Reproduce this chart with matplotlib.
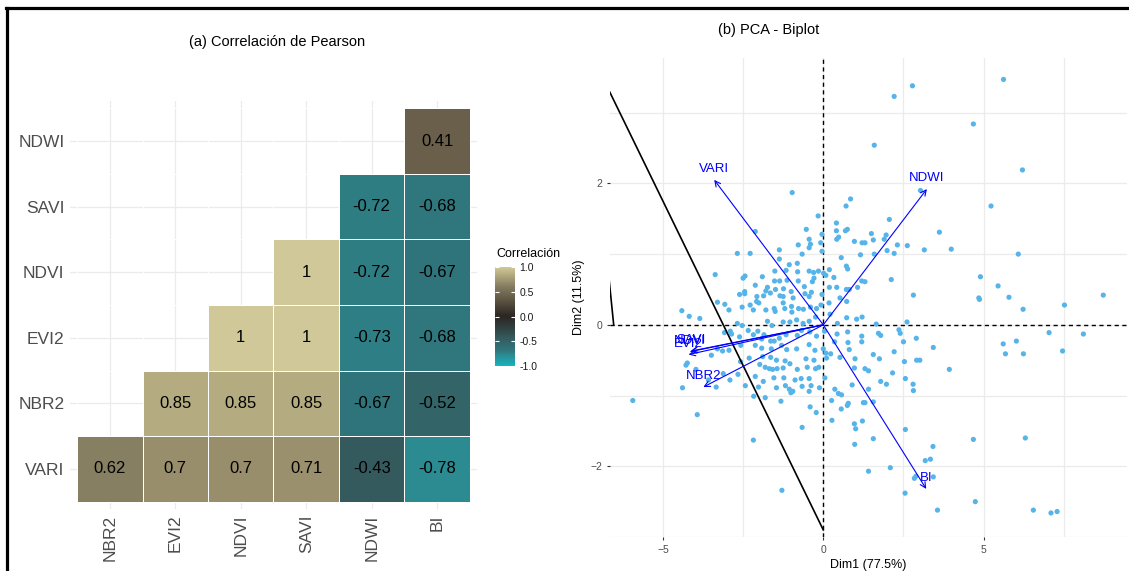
import numpy as np
import matplotlib
matplotlib.use("Agg")
import matplotlib.pyplot as plt
from matplotlib.colors import LinearSegmentedColormap
from matplotlib.lines import Line2D

plt.rcParams['font.family'] = ['Liberation Sans', 'DejaVu Sans']

# ---------------- data: correlation matrix (lower triangle) ----------------
row_labels = ["VARI", "NBR2", "EVI2", "NDVI", "SAVI", "NDWI"]   # bottom -> top
col_labels = ["NBR2", "EVI2", "NDVI", "SAVI", "NDWI", "BI"]
nan = np.nan
corr_VARI = [0.62, 0.70, 0.70, 0.71, -0.43, -0.78]
corr_NBR2 = [nan, 0.85, 0.85, 0.85, -0.67, -0.52]
corr_EVI2 = [nan, nan, 1.00, 1.00, -0.73, -0.68]
corr_NDVI = [nan, nan, nan, 1.00, -0.72, -0.67]
corr_SAVI = [nan, nan, nan, nan, -0.72, -0.68]
corr_NDWI = [nan, nan, nan, nan, nan, 0.41]

cbar_ticks = [-1.0, -0.5, 0.0, 0.5, 1.0]
cbar_ticklabels = ["-1.0", "-0.5", "0.0", "0.5", "1.0"]

# ---------------- data: PCA biplot ----------------
pc_dim1 = [
    -0.97, 0.85, 0.71, -0.16, 0.41, -2.12, -0.53, 0.41, 0.75, 0.69, -0.04, -0.44, 0.48, 0.42, -0.78,
    -0.08, -0.40, -0.44, 0.97, 1.21, -2.68, -2.28, -1.37, -0.66, -0.04, 0.56, 1.16, -1.37, -0.81, -1.06,
    -1.51, -1.16, -0.80, -3.37, -2.44, -2.50, -1.90, -0.44, -0.30, -0.15, 0.01, 0.19, 0.08, 0.72, 0.76,
    0.33, -0.29, -0.34, -1.52, -1.36, -1.13, -0.78, -2.12, -1.74, -2.45, -2.45, -1.79, -1.65, -1.49, -1.24,
    -1.00, -0.59, -0.57, -0.37, 0.19, 0.42, 0.72, 0.81, 1.07, 1.20, -2.61, -2.07, -1.86, -1.35, -1.25,
    -0.94, -0.44, -0.04, 0.52,
    5.62, 2.78, 2.21, 4.68, 1.59, 6.21, 3.03, 5.23, 2.06, 1.50, 1.56, 1.96, 1.90, 3.62, 2.31,
    2.62, 1.99, 2.21, 3.15, 3.99, 6.08, 1.59, 1.30, 2.12, 1.30, 4.90, 5.45, 2.81, 4.85, 5.79, 8.73,
    -3.30, -3.07, -4.41, -4.18, -3.85, -2.94, -2.53, -2.28, -2.08, -2.01, -2.18, -1.79, -1.53, -1.50, -1.25,
    -1.20, -0.99, -0.98, -0.77, -0.62, -0.40, -0.21, -0.07, 0.18, 0.21, 0.73, -2.68, -2.53, -2.34, -2.04,
    -2.18, -1.74, -1.60, -1.25, -1.04, -0.83, -0.63, -0.44, -0.24, 0.44, 0.73, 1.04, 1.21, -3.08, -2.90,
    -2.86, -2.61, -1.92, -1.85, -1.53, -1.37, -1.16, -0.81, -0.68, -0.42, -0.21, 0.04, 0.43, 0.76, 1.20,
    1.20, 0.77, -3.30, -3.14, -2.94, -2.57, -2.12, -1.92, -1.64, -1.62, -1.30, -1.14, -0.83, -0.44, -0.26,
    0.00, 0.35, 0.23, 0.81, 0.52, -3.49, -4.24, -4.28, -2.58, -2.31, -1.89, -1.64, -1.46, -1.19, -1.04,
    -0.54, -0.29, 0.08, 0.10, 0.99, 0.97, -3.97, -1.98, -1.81, -1.68, -1.58, -1.44, -1.25, -0.81, -0.50,
    -0.24, -0.14, 0.05, -3.12, -2.91, -2.66, -2.12, -1.87, -1.54, -1.23, -0.88, -0.69, -0.44, -3.58, -4.39,
    -3.34, -2.43, -2.02, -1.46, -1.18, -1.06, -0.95, -1.01, -0.66, -0.38, -0.12, -0.44, 0.36, 0.47, 0.57,
    0.90, -2.17, -1.81, -1.32, 0.26, 0.78, 0.75, 1.25, -5.94, -3.93, -0.41, 0.56, -0.22, 0.27, -0.66,
    0.97, 1.01, 1.22, -2.18, 0.98, -1.29,
    4.87, 6.23, 7.52, 2.61, 1.65, 1.72, 1.79, 2.36, 2.40, 2.50, 2.90, 7.04, 8.11, 5.61, 6.02,
    5.68, 6.24, 7.46, 3.43, 1.56, 1.75, 2.21, 2.53, 2.91, 3.01, 3.93, 1.30, 1.41, 2.16, 1.79,
    1.97, 2.56, 2.80, 2.81, 1.41, 1.30, 1.56, 2.56, 1.56, 4.68, 6.30, 3.42, 3.18, 3.34, 1.41,
    2.09, 2.84, 2.89, 3.43, 2.55, 3.56, 4.74, 6.55, 7.10, 7.29,
]
pc_dim2 = [
    1.87, 1.78, 1.68, 1.54, 1.44, 1.32, 1.35, 1.33, 1.35, 1.33, 1.28, 1.21, 1.24, 1.21, 1.13,
    1.16, 1.14, 1.09, 1.18, 1.16, 1.01, 1.01, 1.06, 1.00, 1.04, 0.95, 0.99, 0.93, 0.87, 0.85,
    0.76, 0.77, 0.75, 0.71, 0.69, 0.66, 0.68, 0.76, 0.74, 0.76, 0.73, 0.78, 0.70, 0.83, 0.79,
    0.67, 0.66, 0.61, 0.62, 0.62, 0.63, 0.62, 0.56, 0.53, 0.47, 0.44, 0.48, 0.45, 0.50, 0.51,
    0.47, 0.54, 0.44, 0.46, 0.53, 0.53, 0.50, 0.50, 0.53, 0.62, 0.43, 0.40, 0.41, 0.41, 0.40,
    0.38, 0.40, 0.43, 0.38,
    3.47, 3.38, 3.23, 2.84, 2.54, 2.19, 1.90, 1.68, 1.49, 1.29, 1.20, 1.27, 1.21, 1.31, 1.13,
    1.12, 1.05, 1.01, 1.06, 1.07, 1.00, 1.00, 1.16, 0.64, 0.61, 0.68, 0.55, 0.42, 0.38, 0.39, 0.42,
    0.32, 0.29, 0.20, 0.12, 0.09, 0.21, 0.25, 0.28, 0.33, 0.31, 0.21, 0.21, 0.23, 0.19, 0.31,
    0.23, 0.26, 0.18, 0.23, 0.22, 0.25, 0.23, 0.28, 0.31, 0.15, 0.33, 0.02, -0.01, -0.08, -0.09,
    -0.14, 0.05, -0.01, 0.04, 0.04, 0.07, 0.02, 0.05, 0.11, 0.02, 0.10, 0.08, 0.11, -0.11, -0.09,
    -0.13, -0.17, -0.20, -0.14, -0.23, -0.19, -0.14, -0.15, -0.08, -0.10, -0.16, -0.09, -0.13, -0.10, -0.16,
    -0.24, -0.25, -0.34, -0.37, -0.36, -0.29, -0.29, -0.33, -0.23, -0.34, -0.29, -0.35, -0.34, -0.28, -0.36,
    -0.34, -0.24, -0.41, -0.35, -0.46, -0.43, -0.54, -0.57, -0.52, -0.47, -0.45, -0.46, -0.50, -0.51, -0.55,
    -0.48, -0.50, -0.40, -0.47, -0.48, -0.61, -0.63, -0.56, -0.60, -0.62, -0.63, -0.62, -0.61, -0.63, -0.60,
    -0.62, -0.60, -0.75, -0.69, -0.78, -0.70, -0.73, -0.80, -0.75, -0.75, -0.78, -0.76, -0.76, -0.78, -0.89,
    -0.88, -0.86, -0.88, -0.89, -0.86, -0.91, -0.94, -0.96, -0.87, -0.86, -0.89, -0.94, -0.91, -0.97, -0.99,
    -0.85, -1.01, -1.03, -1.08, -1.07, -1.11, -1.14, -1.10, -1.07, -1.27, -1.16, -1.19, -1.24, -1.35, -1.45,
    -1.40, -1.47, -1.36, -1.63, -1.69, -2.34,
    0.36, 0.22, 0.28, 0.04, 0.01, -0.12, -0.15, -0.07, -0.12, -0.24, -0.19, -0.11, -0.13, -0.27, -0.23,
    -0.41, -0.41, -0.37, -0.32, -0.42, -0.48, -0.38, -0.52, -0.50, -0.50, -0.63, -0.62, -0.65, -0.68, -0.80,
    -0.84, -0.76, -0.84, -0.93, -0.91, -1.10, -1.09, -1.48, -1.61, -1.62, -1.60, -1.72, -1.92, -1.90, -2.07,
    -2.02, -2.17, -2.14, -2.15, -2.38, -2.62, -2.50, -2.62, -2.66, -2.64,
]

var_names = ["VARI", "NDWI", "BI", "NBR2", "SAVI", "NDVI", "EVI2"]
var_dim1 = [-3.40, 3.23, 3.21, -3.74, -4.12, -4.16, -4.20]
var_dim2 = [2.05, 1.92, -2.32, -0.88, -0.37, -0.38, -0.42]

line_a_dim1 = [-7.00, 0.00]
line_a_dim2 = [3.61, -2.90]
line_b_dim1 = [-6.70, -6.535]
line_b_dim2 = [0.74, 0.00]

dim1_label = "Dim1 (77.5%)"
dim2_label = "Dim2 (11.5%)"

# ---------------- figure ----------------
W, H = 1129, 571
fig = plt.figure(figsize=(W / 100, H / 100), dpi=100)

def fx(px):
    return px / W

def fy(py):
    return 1 - py / H

# border (only top and left visible)
fig.add_artist(Line2D([fx(6), 1.0], [fy(7.5), fy(7.5)], color='black', lw=2.3))
fig.add_artist(Line2D([fx(6.5), fx(6.5)], [0.0, fy(7.5)], color='black', lw=2.3))

# ---------------- (a) heatmap ----------------
cmap = LinearSegmentedColormap.from_list("corr", [
    (0.000, "#13b3bf"),
    (0.110, "#2b8b91"),
    (0.140, "#2e7c82"),
    (0.165, "#2f747a"),
    (0.240, "#336468"),
    (0.285, "#35595c"),
    (0.500, "#2a2522"),
    (0.705, "#695f4b"),
    (0.810, "#867e62"),
    (0.850, "#988e6c"),
    (0.925, "#b4ab80"),
    (1.000, "#d0c898"),
])

mat = np.array([corr_VARI, corr_NBR2, corr_EVI2, corr_NDVI, corr_SAVI, corr_NDWI])
mmat = np.ma.masked_invalid(mat)

ax1 = fig.add_axes([fx(70), fy(509), (477 - 70) / W, (509 - 101) / H])
edges = np.arange(len(col_labels) + 1) - 0.5
mesh = ax1.pcolormesh(edges, np.arange(len(row_labels) + 1) - 0.5, mmat, cmap=cmap,
                      vmin=-1, vmax=1, edgecolors='white', linewidth=0.6)
for i in range(mat.shape[0]):
    for j in range(mat.shape[1]):
        v = mat[i, j]
        if not np.isnan(v):
            ax1.text(j, i, f"{v:g}", ha='center', va='center', fontsize=12, color='black')
ax1.set_xlim(-0.61, len(col_labels) - 0.39)
ax1.set_ylim(-0.61, len(row_labels) - 0.39)
ax1.set_xticks(range(len(col_labels)))
ax1.set_xticklabels(col_labels, rotation=90, fontsize=12.5, color='#4d4d4d')
ax1.set_yticks(range(len(row_labels)))
ax1.set_yticklabels(row_labels, fontsize=12.5, color='#4d4d4d')
ax1.tick_params(length=0, pad=4)
ax1.grid(True, color='#ebebeb', lw=0.9)
ax1.set_axisbelow(True)
for s in ax1.spines.values():
    s.set_visible(False)

fig.text(fx(277), fy(42), "(a) Correlación de Pearson", ha='center', va='center', fontsize=10.5)

# colorbar
cax = fig.add_axes([fx(495), fy(366), 20 / W, (366 - 267) / H])
cb = fig.colorbar(mesh, cax=cax)
cb.outline.set_visible(False)
cb.set_ticks(cbar_ticks)
cb.set_ticklabels(cbar_ticklabels)
cax.tick_params(direction='in', color='white', length=3, width=0.8, left=True, right=True,
                labelsize=7.5, pad=3, labelcolor='#1a1a1a')
fig.text(fx(496), fy(254), "Correlación", ha='left', va='center', fontsize=9)

# ---------------- (b) biplot ----------------
ax2 = fig.add_axes([fx(610), fy(537), (1127 - 610) / W, (537 - 57.5) / H])
ax2.set_xlim(-6.65, 9.47)
ax2.set_ylim(-2.97, 3.78)
ax2.set_xticks([-5, 0, 5])
ax2.set_xticks([-2.5, 2.5, 7.5], minor=True)
ax2.set_yticks([-2, 0, 2])
ax2.set_yticks([-3, -1, 1, 3], minor=True)
ax2.grid(True, which='both', color='#ebebeb', lw=0.9)
ax2.set_axisbelow(True)
for s in ax2.spines.values():
    s.set_visible(False)
ax2.tick_params(which='major', length=2.5, width=0.8, color='#333333', labelsize=7.5,
                labelcolor='#4d4d4d', pad=3)
ax2.tick_params(which='minor', length=0)
ax2.set_xlabel(dim1_label, fontsize=9, labelpad=3)
ax2.set_ylabel(dim2_label, fontsize=9, labelpad=4)

ax2.axhline(0, color='black', lw=1.0, ls=(0, (3, 2.5)), zorder=1)
ax2.axvline(0, color='black', lw=1.0, ls=(0, (3, 2.5)), zorder=1)

ax2.scatter(pc_dim1, pc_dim2, s=14, color='#56b4e9', edgecolors='none', zorder=2)

ax2.plot(line_a_dim1, line_a_dim2, color='black', lw=1.2, zorder=3)
ax2.plot(line_b_dim1, line_b_dim2, color='black', lw=1.2, zorder=3)

for name, x, y in zip(var_names, var_dim1, var_dim2):
    ax2.annotate('', xy=(x, y), xytext=(0, 0),
                 arrowprops=dict(arrowstyle='->', color='blue', lw=0.8,
                                 mutation_scale=10, shrinkA=0, shrinkB=0),
                 zorder=4)
    ax2.text(x, y + 0.155, name, color='blue', ha='center', va='center', fontsize=9.5, zorder=5)

fig.text(fx(769), fy(30), "(b) PCA - Biplot", ha='center', va='center', fontsize=10.5)

fig.savefig("out.png", dpi=100)
